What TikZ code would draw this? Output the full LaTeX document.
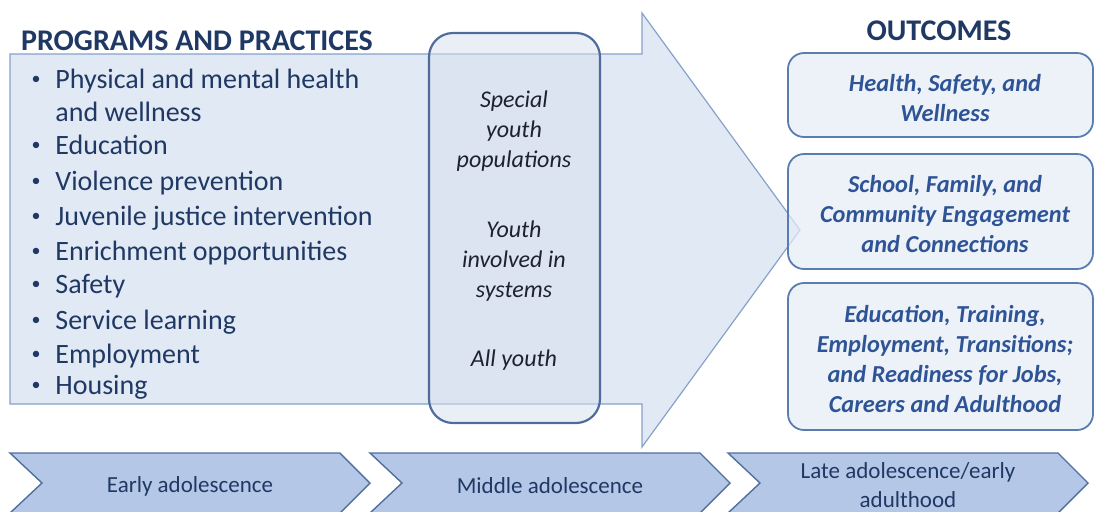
\documentclass[tikz,border=0pt]{standalone}
\usepackage{fontspec}
\setmainfont{Carlito}
\definecolor{navy}{HTML}{1F3864}
\definecolor{ink}{HTML}{1E2230}
\definecolor{outtext}{HTML}{2F5496}
\definecolor{arrowfill}{HTML}{E1E9F4}
\definecolor{arrowline}{HTML}{86A2CA}
\definecolor{popfill}{HTML}{D6E0EE}
\definecolor{popline}{HTML}{4E6D9C}
\definecolor{outfill}{HTML}{E6EDF7}
\definecolor{outline}{HTML}{5A7DB0}
\definecolor{chevfill}{HTML}{B4C7E7}
\definecolor{chevline}{HTML}{4F6F9F}
\begin{document}
\begin{tikzpicture}[x=0.5pt,y=-0.5pt,
  bigarrow/.style={fill=arrowfill, draw=arrowline, line width=0.6pt},
  popbox/.style={draw=popline, line width=1.1pt, fill=popfill, fill opacity=0.5, rounded corners=12pt},
  outbox/.style={draw=outline, line width=0.9pt, fill=outfill, fill opacity=0.7, rounded corners=8pt},
  chev/.style={fill=chevfill, draw=chevline, line width=0.7pt},
  hdr/.style={font=\fontsize{15}{18}\selectfont\bfseries, text=navy, inner sep=0, anchor=base},
  item/.style={font=\fontsize{14}{17}\selectfont, text=navy, inner sep=0, anchor=base west},
  bul/.style={font=\fontsize{9}{11}\selectfont, text=navy, inner sep=0, anchor=center},
  pop/.style={font=\fontsize{12}{15}\selectfont\itshape, text=ink, align=center, inner sep=0},
  outtxt/.style={font=\fontsize{12.2}{15}\selectfont\bfseries\itshape, text=outtext, align=center, inner sep=0},
  chevtxt/.style={font=\fontsize{11.5}{14.5}\selectfont, text=navy, align=center, inner sep=0}]
\useasboundingbox (0,0) rectangle (1094,511);
% big arrow
\path[bigarrow] (10,54) -- (642,54) -- (642,13) -- (800,230) -- (642,447) -- (642,404) -- (10,404) -- cycle;
% population box
\path[popbox] (429,33) rectangle (600,423);
% outcome boxes
\path[outbox] (788,53) rectangle (1093,137);
\path[outbox] (788,154) rectangle (1093,269);
\path[outbox] (788,283) rectangle (1093,430);
% chevrons
\path[chev] (10,453) -- (340,453) -- (370,483) -- (340,513) -- (10,513) -- (42,483) -- cycle;
\path[chev] (370,453) -- (700,453) -- (730,483) -- (700,513) -- (370,513) -- (402,483) -- cycle;
\path[chev] (728,453) -- (1058,453) -- (1088,483) -- (1058,513) -- (728,513) -- (760,483) -- cycle;
% headers
\node[hdr] (h1) at (197,50) {PROGRAMS AND PRACTICES};
\node[hdr] (h2) at (939,40) {OUTCOMES};
% bullet list
\node[bul] (b1) at (36,80) {•};
\node[item] (t1) at (55,88) {Physical and mental health};
\node[item] (t1b) at (55,121) {and wellness};
\node[bul] (b2) at (36,146) {•};
\node[item] (t2) at (55,154) {Education};
\node[bul] (b3) at (36,182) {•};
\node[item] (t3) at (55,190) {Violence prevention};
\node[bul] (b4) at (36,217) {•};
\node[item] (t4) at (55,225) {Juvenile justice intervention};
\node[bul] (b5) at (36,252) {•};
\node[item] (t5) at (55,260) {Enrichment opportunities};
\node[bul] (b6) at (36,285) {•};
\node[item] (t6) at (55,293) {Safety};
\node[bul] (b7) at (36,321) {•};
\node[item] (t7) at (55,329) {Service learning};
\node[bul] (b8) at (36,355) {•};
\node[item] (t8) at (55,363) {Employment};
\node[bul] (b9) at (36,386) {•};
\node[item] (t9) at (55,394) {Housing};
% population texts
\node[pop] (p1) at (514,131) {Special\\youth\\populations};
\node[pop] (p2) at (514,261) {Youth\\involved in\\systems};
\node[pop] (p3) at (514,360) {All youth};
% outcome texts
\node[outtxt] (o1) at (945,98) {Health, Safety, and\\Wellness};
\node[outtxt] (o2) at (945,214) {School, Family, and\\Community Engagement\\and Connections};
\node[outtxt] (o3) at (945,359) {Education, Training,\\Employment, Transitions;\\and Readiness for Jobs,\\Careers and Adulthood};
% stage texts
\node[chevtxt] (c1) at (190,486) {Early adolescence};
\node[chevtxt] (c2) at (550,486) {Middle adolescence};
\node[chevtxt] (c3) at (908,485) {Late adolescence/early\\adulthood};
\end{tikzpicture}
\end{document}
